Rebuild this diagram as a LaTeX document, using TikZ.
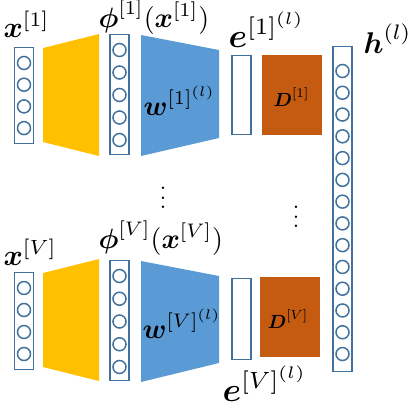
\documentclass[tikz,border=0pt]{standalone}
\usepackage{amsmath,amssymb}
\usepackage{tikz}
\definecolor{nnLine}{RGB}{65,113,156}
\definecolor{nnYellow}{RGB}{255,192,0}
\definecolor{nnBlue}{RGB}{91,155,213}
\definecolor{nnOrange}{RGB}{197,90,17}

\tikzset{
  vecbox/.style={rectangle, draw=nnLine, line width=1.8pt, fill=white, inner sep=0pt, minimum width=19pt},
  unit/.style={circle, draw=nnLine, line width=1.5pt, inner sep=0pt, minimum size=13pt},
  dictbox/.style={rectangle, fill=nnOrange, inner sep=0pt, minimum width=60pt, minimum height=80pt},
  lbl/.style={inner sep=0pt, scale=2.8},
  dlbl/.style={inner sep=0pt, scale=1.9},
  dotsnode/.style={inner sep=0pt, scale=2.3, font=\boldmath}
}

\begin{document}
\begin{tikzpicture}[x=1pt, y=-1pt]
  \useasboundingbox (0,0) rectangle (415,407);

  % encoder layers
  \fill[nnYellow] (43,48) -- (99,34) -- (99,156) -- (43,142) -- cycle;
  \fill[nnBlue] (141,35) -- (219,50) -- (219,138) -- (141,156) -- cycle;
  \fill[nnYellow] (43,273) -- (99,259) -- (99,381) -- (43,367) -- cycle;
  \fill[nnBlue] (141,261) -- (219,276) -- (219,363) -- (141,382) -- cycle;

  % view 1
  \node[vecbox, minimum height=96pt] (x1) at (24,95.5) {};
  \foreach \i in {0,...,3}
    \node[unit] (x1c\i) at (24,{63+21.7*\i}) {};
  \node[vecbox, minimum height=120pt] (phi1) at (119.5,94.5) {};
  \foreach \i in {0,...,4}
    \node[unit] (phi1c\i) at (119.5,{50+22.5*\i}) {};
  \node[vecbox, minimum height=79pt] (e1) at (241.5,95) {};
  \node[dictbox] (D1) at (292,95) {};

  % view V
  \node[vecbox, minimum height=97pt] (xV) at (24,321) {};
  \foreach \i in {0,...,3}
    \node[unit] (xVc\i) at (24,{288+22*\i}) {};
  \node[vecbox, minimum height=120pt] (phiV) at (119.5,320.5) {};
  \foreach \i in {0,...,4}
    \node[unit] (phiVc\i) at (119.5,{276+22.75*\i}) {};
  \node[vecbox, minimum height=81pt] (eV) at (241.5,319) {};
  \node[dictbox] (DV) at (290,317) {};

  % shared representation
  \node[vecbox, minimum height=325pt] (h) at (342.5,209) {};
  \foreach \i in {0,...,13}
    \node[unit] (hc\i) at (342.5,{71+21.77*\i}) {};

  % labels
  \node[lbl, scale=1.05, anchor=base west] (x1lbl) at (3,37) {$\boldsymbol{x}^{[1]}$};
  \node[lbl, anchor=base west] (phi1lbl) at (98,27) {$\boldsymbol{\phi}^{[1]}(\boldsymbol{x}^{[1]})$};
  \node[lbl, anchor=base west] (w1lbl) at (143,115) {$\boldsymbol{w}^{[1]^{(l)}}$};
  \node[lbl, scale=1.2, anchor=base west] (e1lbl) at (228,47) {$\boldsymbol{e}^{[1]^{(l)}}$};
  \node[dlbl, anchor=base] (D1lbl) at (291.5,106) {$\boldsymbol{D}^{[1]}$};
  \node[lbl, scale=1.07, anchor=base west] (hlbl) at (363,53) {$\boldsymbol{h}^{(l)}$};
  \node[lbl, scale=1.05, anchor=base west] (xVlbl) at (3,265) {$\boldsymbol{x}^{[V]}$};
  \node[lbl, anchor=base west] (phiVlbl) at (98,248) {$\boldsymbol{\phi}^{[V]}(\boldsymbol{x}^{[V]})$};
  \node[lbl, anchor=base west] (wVlbl) at (142,338) {$\boldsymbol{w}^{[V]^{(l)}}$};
  \node[lbl, scale=1.2, anchor=base west] (eVlbl) at (222,401) {$\boldsymbol{e}^{[V]^{(l)}}$};
  \node[dlbl, anchor=base] (DVlbl) at (288,328) {$\boldsymbol{D}^{[V]}$};
  \node[dotsnode] (dots1) at (163,191) {$\vdots$};
  \node[dotsnode] (dots2) at (296,210) {$\vdots$};
\end{tikzpicture}
\end{document}
